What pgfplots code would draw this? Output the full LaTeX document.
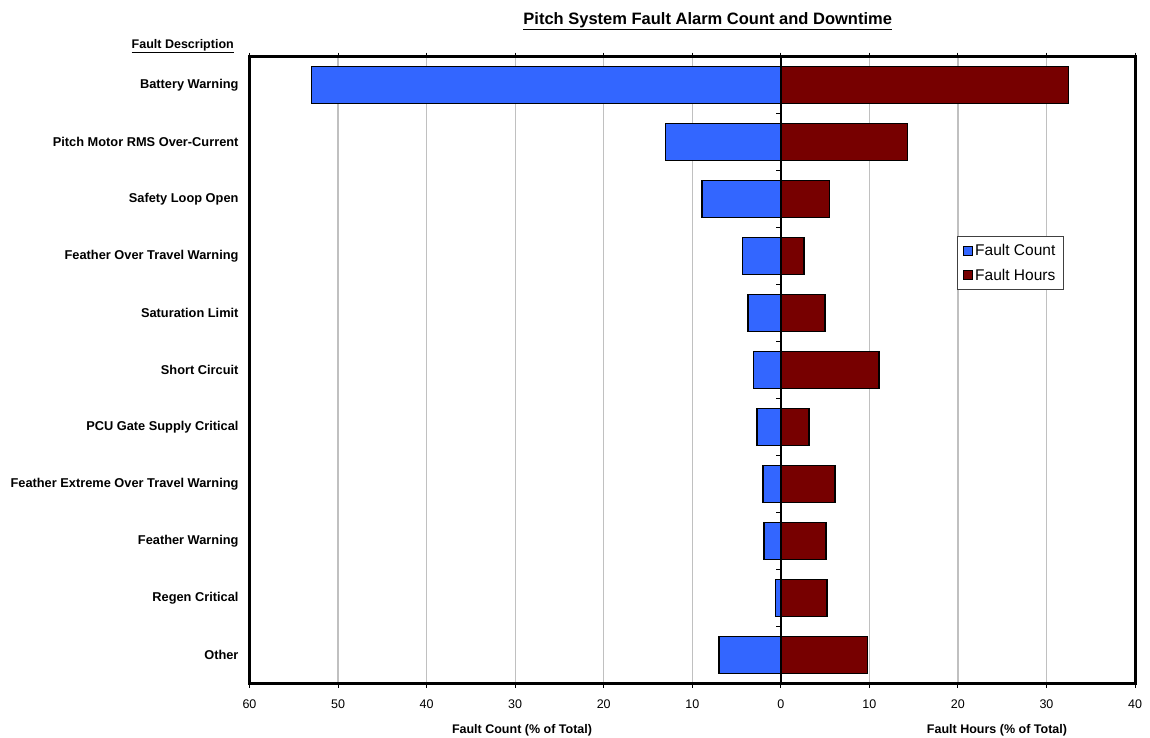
\documentclass[border=0pt]{standalone}
\usepackage{pgfplots}
\pgfplotsset{compat=1.18}
\usepackage{fontspec}
\setmainfont{Liberation Sans}
\definecolor{cblue}{RGB}{51,102,255}
\definecolor{cred}{RGB}{119,0,0}
\definecolor{gridc}{RGB}{192,192,192}
\begin{document}
\begin{tikzpicture}
\path[use as bounding box] (0pt,0pt) rectangle (1150pt,737pt);
\begin{axis}[
  at={(249.5pt,53.5pt)}, anchor=south west, scale only axis,
  width=885.5pt, height=627pt,
  xmin=-60, xmax=40, ymin=-0.5, ymax=10.5, y dir=reverse,
  xtick={-60,-50,...,40},
  xticklabels={60,50,40,30,20,10,0,10,20,30,40},
  ytick={0,...,10},
  yticklabels={Battery Warning,Pitch Motor RMS Over-Current,Safety Loop Open,Feather Over Travel Warning,Saturation Limit,Short Circuit,PCU Gate Supply Critical,Feather Extreme Over Travel Warning,Feather Warning,Regen Critical,Other},
  xmajorgrids, major grid style={gridc, line width=1.3pt},
  axis line style={line width=3pt},
  tick align=outside, major tick length=4pt,
  xtick style={black, line width=1pt},
  ytick style={draw=none},
  yticklabel style={font=\bfseries\fontsize{12.8}{14}\selectfont, xshift=-3.5pt},
  xticklabel style={font=\fontsize{12.5}{14}\selectfont, yshift=-9pt},
  xbar, bar width=37pt, bar shift=0pt,
  legend style={at={(0.799,0.714)}, anchor=north west, draw=black!75, line width=0.8pt,
    font=\fontsize{15.5}{18}\selectfont, row sep=8pt, inner xsep=6pt, inner ysep=6pt},
  legend cell align=left,
]
\addplot[fill=cblue, draw=black, line width=1.5pt,
  legend image code/.code={\draw[fill=cblue,draw=black,line width=0.8pt] (0pt,-4.5pt) rectangle (9pt,4.5pt);}]
  coordinates {(-53.0,0) (-13.0,1) (-8.9,2) (-4.3,3) (-3.7,4) (-3.1,5) (-2.7,6) (-2.0,7) (-1.9,8) (-0.6,9) (-7.0,10)};
\addlegendentry{Fault Count}
\addplot[fill=cred, draw=black, line width=1.5pt,
  legend image code/.code={\draw[fill=cred,draw=black,line width=0.8pt] (0pt,-4.5pt) rectangle (9pt,4.5pt);}]
  coordinates {(32.5,0) (14.3,1) (5.5,2) (2.6,3) (5.0,4) (11.1,5) (3.2,6) (6.1,7) (5.1,8) (5.2,9) (9.8,10)};
\addlegendentry{Fault Hours}
\draw[black, line width=1.5pt] (axis cs:0,-0.5) -- (axis cs:0,10.5);
\pgfplotsinvokeforeach{0.5,1.5,2.5,3.5,4.5,5.5,6.5,7.5,8.5,9.5}{
  \draw[black, line width=1pt] (axis cs:0,#1) -- ++(-5pt,0pt);
}
\end{axis}
\node[font=\bfseries\fontsize{16.5}{18}\selectfont] at (707.7pt,716pt) {\underline{Pitch System Fault Alarm Count and Downtime}};
\node[font=\bfseries\fontsize{12.5}{14}\selectfont, anchor=east, inner sep=0pt] at (234pt,691pt) {\underline{Fault Description}};
\node[font=\bfseries\fontsize{12.5}{14}\selectfont] at (522pt,7pt) {Fault Count (\% of Total)};
\node[font=\bfseries\fontsize{12.5}{14}\selectfont] at (997pt,7pt) {Fault Hours (\% of Total)};
\end{tikzpicture}
\end{document}
